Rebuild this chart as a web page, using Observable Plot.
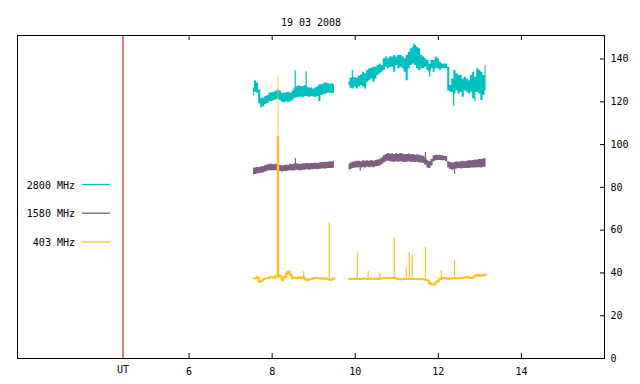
<!DOCTYPE html>
<html><head><meta charset="utf-8">
<script src="https://cdn.jsdelivr.net/npm/d3@7"></script>
<script src="https://cdn.jsdelivr.net/npm/@observablehq/plot@0.6"></script>
<style>
body{margin:0;background:#fff;}
#chart svg{display:block;}
</style></head><body><div id="chart"></div>
<script>
const title = "19 03 2008";
const seriesNames = ["2800 MHz", "1580 MHz", "403 MHz"];
const colors = ["#00c0c0", "#806080", "#ffc020"];
const xTicks = [6, 8, 10, 12, 14];
const yTicks = [0, 20, 40, 60, 80, 100, 120, 140];
const utMark = 4.41;
const utLabel = "UT";
const xDomain = [1.87, 16];
const yDomain = [0, 151];

// time samples (UT hours) of the two observing segments
const t1 = [7.55,7.60,7.65,7.70,7.75,7.80,7.85,7.90,7.95,8.00,8.05,8.10,8.15,8.20,8.25,8.30,8.35,8.40,8.45,8.50,
  8.55,8.60,8.65,8.70,8.75,8.80,8.85,8.90,8.95,9.00,9.05,9.10,9.15,9.20,9.25,9.30,9.35,9.40,9.45,9.50];
const t2 = [9.85,9.90,9.95,10.00,10.05,10.10,10.15,10.20,10.25,10.30,10.35,10.40,10.45,10.50,10.55,10.60,10.65,10.70,10.75,10.80,
  10.85,10.90,10.95,11.00,11.05,11.10,11.15,11.20,11.25,11.30,11.35,11.40,11.45,11.50,11.55,11.60,11.65,11.70,11.75,11.80,
  11.85,11.90,11.95,12.00,12.05,12.10,12.15,12.20,12.25,12.30,12.35,12.40,12.45,12.50,12.55,12.60,12.65,12.70,12.75,12.80,
  12.85,12.90,12.95,13.00,13.05,13.10,13.15];

// 2800 MHz: min / max within each sample
const f2800Lo1 = [122.7,124.5,124.0,119.0,117.2,117.8,118.8,119.2,120.0,120.2,120.6,121.0,121.2,120.5,119.8,119.6,120.0,119.6,120.0,120.5,
  121.5,122.0,122.0,122.3,122.0,122.5,122.5,122.0,122.5,122.3,122.0,122.5,120.2,123.0,123.5,123.5,124.0,124.0,124.0,123.8];
const f2800Hi1 = [126.5,129.7,128.8,125.5,121.5,121.8,122.5,123.0,124.0,124.3,124.5,125.0,125.5,125.0,124.0,124.0,124.2,124.5,124.0,125.0,
  126.5,127.0,127.5,127.0,127.2,127.5,126.8,126.5,126.5,126.0,126.5,127.0,128.0,128.0,128.5,128.9,128.5,128.2,128.5,128.0];
const f2800Lo2 = [127.6,126.3,126.0,126.9,126.0,126.9,127.6,126.9,126.0,129.2,
  129.9,130.7,129.2,130.7,132.3,133.1,133.8,134.6,136.2,135.4,
  136.2,136.2,133.8,137.0,135.4,136.2,135.4,133.8,129.9,135.4,
  137.0,137.7,137.0,135.4,134.6,135.4,135.4,136.2,134.6,133.8,
  135.4,133.8,135.4,135.4,134.6,135.4,135.4,135.4,125.2,124.5,
  124.5,123.7,125.2,123.7,124.5,122.1,125.2,124.5,123.7,124.5,
  121.4,124.5,124.5,123.7,120.6,122.9,125.2];
const f2800Hi2 = [129.4,131.0,131.4,131.4,131.0,131.9,132.5,133.8,133.1,134.6,
  135.4,135.7,136.2,136.2,137.0,137.7,137.0,140.1,140.9,140.1,
  140.9,140.9,141.6,140.9,141.6,141.6,140.9,140.1,141.6,143.2,
  144.8,145.5,146.3,145.5,144.8,141.6,140.9,140.1,139.3,137.7,
  139.3,139.3,140.9,140.1,138.5,137.7,137.7,137.7,136.0,127.6,
  130.7,134.6,133.1,132.3,132.3,130.7,131.5,130.7,129.9,132.3,
  133.8,131.5,135.4,134.6,133.8,132.3,137.0];
const f2800SpikeT = [8.555, 8.82, 9.93, 11.41, 11.79, 12.37, 12.88];
const f2800SpikeFrom = [124.0, 124.0, 128.0, 140.0, 136.0, 126.0, 126.0];
const f2800SpikeTo = [134.4, 134.1, 134.6, 147.1, 131.5, 118.0, 120.0];

// 1580 MHz
const f1580Lo1 = [85.8,86.0,86.2,86.5,86.6,86.8,87.2,87.6,87.8,87.8,87.8,87.8,87.6,87.4,87.2,87.4,87.4,87.6,87.8,87.6,
  87.8,88.0,87.8,87.8,88.0,88.0,88.2,88.0,88.2,88.2,88.4,88.2,88.4,88.6,88.6,88.6,88.8,88.8,88.8,89.0];
const f1580Hi1 = [89.0,89.0,89.3,89.3,89.6,89.8,90.2,90.6,90.8,90.8,90.6,90.8,90.4,90.2,90.0,90.2,90.4,90.4,90.8,90.6,
  91.0,91.0,90.8,90.8,91.0,91.0,91.2,91.0,91.2,91.2,91.4,91.2,91.4,91.6,91.6,91.8,91.8,92.0,92.0,92.2];
const f1580Lo2 = [87.8,88.4,88.8,89.0,89.0,89.2,89.0,89.2,89.0,89.4,
  89.2,89.4,89.2,89.6,89.8,90.0,90.6,91.4,92.0,92.2,
  92.0,91.8,91.8,92.0,91.8,92.0,91.8,91.6,91.8,92.0,
  91.6,91.8,91.6,91.8,91.4,91.4,91.2,90.4,89.0,88.8,
  90.0,92.0,92.4,92.6,92.6,92.4,92.4,92.0,89.0,88.4,
  88.0,88.4,88.6,88.8,88.6,88.8,88.8,88.8,88.8,89.0,
  89.0,89.0,89.2,89.2,89.0,89.4,89.4];
const f1580Hi2 = [90.8,91.4,91.8,92.0,92.2,92.2,92.0,92.4,92.2,92.4,
  92.2,92.6,92.2,92.6,92.8,93.2,93.8,94.8,95.4,95.8,
  95.6,95.6,95.4,95.8,95.4,95.8,95.6,95.2,95.4,95.6,
  95.2,95.4,95.0,95.2,95.0,94.8,94.6,93.6,92.4,92.0,
  93.0,94.8,95.0,95.0,95.0,94.8,94.6,94.4,92.0,91.6,
  91.4,91.6,92.0,91.8,92.0,92.2,92.0,92.2,92.4,92.4,
  92.6,92.8,92.8,93.2,93.0,93.4,93.4];
const f1580SpikeT = [8.56, 10.12, 11.69, 12.39];
const f1580SpikeFrom = [89.0, 90.0, 92.0, 88.5];
const f1580SpikeTo = [93.5, 87.5, 96.3, 86.0];

// 403 MHz
const f403v1 = [37.5,37.5,38.0,35.9,36.4,37.2,37.5,37.5,38.0,38.0,37.8,38.6,39.0,38.6,36.7,38.0,39.5,40.6,39.0,37.5,
  37.8,37.5,38.0,37.5,38.0,37.0,36.7,37.0,37.3,37.5,37.6,37.5,37.5,37.3,37.5,37.3,37.0,36.7,37.0,37.5];
const f403v2 = [37.2,37.2,37.3,37.2,37.3,37.2,37.2,37.4,37.3,37.2,
  37.4,37.3,37.2,37.4,37.2,37.3,37.5,37.6,37.5,37.6,
  37.5,37.6,37.8,37.3,37.0,37.0,37.1,37.2,37.2,37.3,
  37.2,37.2,37.3,37.2,37.1,37.2,37.0,36.8,36.5,35.2,
  34.6,34.5,35.6,36.4,37.2,37.8,37.6,37.4,37.2,37.5,
  37.4,37.6,37.4,37.6,37.8,37.8,38.0,38.2,37.8,37.6,
  38.0,38.8,39.2,38.6,38.8,39.0,39.2];
const f403SpikeT = [8.76, 9.375, 10.05, 10.31, 10.59, 10.94, 11.23, 11.30, 11.37, 11.69, 12.07, 12.39, 8.35];
const f403SpikeTop = [40.7, 63.4, 49.6, 40.7, 40.0, 56.3, 42.8, 49.6, 48.2, 51.9, 41.1, 45.8, 40.4];
const f403BurstT = [8.14];
const f403BurstTop = [104.0];
const f403BurstPeak = [132.0];
const f403Base = 37.5;

const band = (ts, lo, hi, seg) => ts.map((t, i) => ({t, lo: lo[i], hi: hi[i], seg}));
const line = (ts, v, seg) => ts.map((t, i) => ({t, v: v[i], seg}));
const spikes = (ts, from, to) => ts.map((t, i) => ({t, from: from[i], to: to[i]}));

const d2800 = [...band(t1, f2800Lo1, f2800Hi1, 1), ...band(t2, f2800Lo2, f2800Hi2, 2)];
const d1580 = [...band(t1, f1580Lo1, f1580Hi1, 1), ...band(t2, f1580Lo2, f1580Hi2, 2)];
const d403 = [...line(t1, f403v1, 1), ...line(t2, f403v2, 2)];
const s2800 = spikes(f2800SpikeT, f2800SpikeFrom, f2800SpikeTo);
const s1580 = spikes(f1580SpikeT, f1580SpikeFrom, f1580SpikeTo);
const s403 = spikes(f403SpikeT, f403SpikeT.map(() => f403Base), f403SpikeTop);
const b403 = spikes(f403BurstT, f403BurstT.map(() => f403Base), f403BurstTop);
const p403 = spikes(f403BurstT, f403BurstTop, f403BurstPeak);

const W = 640, H = 384, mL = 17, mR = 36, mT = 35, mB = 26;
const fw = W - mL - mR, fh = H - mT - mB;
const font = "DejaVu Sans Mono";

const chart = Plot.plot({
  width: W, height: H,
  marginLeft: mL, marginRight: mR, marginTop: mT, marginBottom: mB,
  style: {fontFamily: font, fontSize: "10px", background: "#fff", color: "#000"},
  x: {domain: xDomain, label: null},
  y: {domain: yDomain, label: null},
  marks: [
    Plot.ruleX([utMark], {x: d => d, stroke: "#a00000", strokeWidth: 1}),
    Plot.areaY(d2800, {x: "t", y1: "lo", y2: "hi", z: "seg", fill: colors[0], curve: "step"}),
    Plot.ruleX(s2800, {x: "t", y1: "from", y2: "to", stroke: colors[0], strokeWidth: 1.2}),
    Plot.areaY(d1580, {x: "t", y1: "lo", y2: "hi", z: "seg", fill: colors[1], curve: "step"}),
    Plot.ruleX(s1580, {x: "t", y1: "from", y2: "to", stroke: colors[1], strokeWidth: 1.2}),
    Plot.line(d403, {x: "t", y: "v", z: "seg", stroke: colors[2], strokeWidth: 2, curve: "step"}),
    Plot.ruleX(s403, {x: "t", y1: "from", y2: "to", stroke: colors[2], strokeWidth: 1.2}),
    Plot.ruleX(b403, {x: "t", y1: "from", y2: "to", stroke: colors[2], strokeWidth: 2.5}),
    Plot.ruleX(p403, {x: "t", y1: "from", y2: "to", stroke: colors[2], strokeWidth: 1, strokeOpacity: 0.7}),
    Plot.frame({stroke: "#000", strokeWidth: 1}),
    Plot.tickX(xTicks, {x: d => d, insetTop: fh - 5, stroke: "#000"}),
    Plot.tickX(xTicks, {x: d => d, insetBottom: fh - 5, stroke: "#000"}),
    Plot.tickY(yTicks, {y: d => d, insetLeft: fw - 4, stroke: "#000"}),
    Plot.axisX(xTicks, {tickSize: 0, tickPadding: 9, fontSize: 10, fontFamily: font, label: null}),
    Plot.axisY(yTicks, {anchor: "right", tickSize: 0, tickPadding: 6, fontSize: 10, fontFamily: font, label: null}),
    Plot.text([utLabel], {x: () => utMark, frameAnchor: "bottom", dy: 14, text: d => d, fontSize: 10, fontFamily: font}),
    Plot.text([title], {frameAnchor: "top", dy: -17, text: d => d, fontSize: 10, fontFamily: font})
  ]
});

// legend inside the frame, upper-left area
const svg = d3.select(chart);
const lg = svg.append("g");
seriesNames.forEach((name, i) => {
  const y = 185 + i * 28.7;
  lg.append("text").attr("x", 75).attr("y", y).attr("dy", "0.35em")
    .attr("text-anchor", "end").attr("font-family", font).attr("font-size", 10).attr("fill", "#000").text(name);
  lg.append("line").attr("x1", 82).attr("x2", 110).attr("y1", y - 0.5).attr("y2", y - 0.5)
    .attr("stroke", colors[i]).attr("stroke-width", 1.3);
});

document.getElementById("chart").appendChild(chart);
</script></body></html>
